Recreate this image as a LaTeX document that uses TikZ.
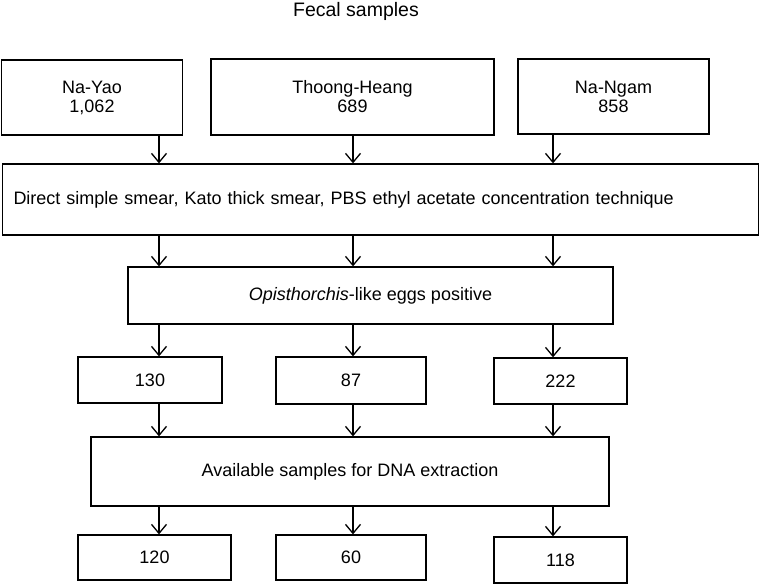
\documentclass[tikz,border=0pt]{standalone}
\usepackage{fontspec}
\setmainfont{Liberation Sans}
\usetikzlibrary{arrows.meta}
\begin{document}
\begin{tikzpicture}[x=1pt,y=-1pt,
  box/.style={draw=black, line width=1.3pt, rectangle, inner sep=0pt, align=center,
    font=\fontsize{18}{19}\selectfont},
  arr/.style={line width=1.3pt, -{Straight Barb[length=9pt,width=15pt,line width=1.3pt]}},
  ttl/.style={font=\fontsize{19.5}{21}\selectfont}]
\useasboundingbox (0,0) rectangle (760,584);
\node[ttl] (title) at (356,11) {Fecal samples};
% row 1
\node[box, minimum width=181pt, minimum height=75pt] (nayao) at (92,97.5) {Na-Yao\\1,062};
\node[box, minimum width=283pt, minimum height=76pt] (thoong) at (352.5,97) {Thoong-Heang\\689};
\node[box, minimum width=191pt, minimum height=75pt] (nangam) at (613.5,96.5) {Na-Ngam\\858};
% row 2
\node[box, minimum height=71pt, text width=734pt, inner xsep=11pt, align=left] (proc) at (380.5,199.5)
  {Direct simple smear, Kato thick smear, PBS ethyl acetate concentration technique};
% row 3
\node[box, minimum width=485pt, minimum height=57pt] (opis) at (370.5,295.5) {\textit{Opisthorchis}-like eggs positive};
% row 4
\node[box, minimum width=144pt, minimum height=46pt] (r130) at (150,380) {130};
\node[box, minimum width=150pt, minimum height=47pt] (r87) at (351,380.5) {87};
\node[box, minimum width=133pt, minimum height=46pt] (r222) at (560.5,381) {222};
% row 5
\node[box, minimum width=518pt, minimum height=69pt] (avail) at (350,471.5) {Available samples for DNA extraction};
% row 6
\node[box, minimum width=153pt, minimum height=45pt] (r120) at (154.5,557.5) {120};
\node[box, minimum width=150pt, minimum height=45pt] (r60) at (351,557.5) {60};
\node[box, minimum width=133pt, minimum height=46pt] (r118) at (560.5,560) {118};
% arrow columns
\coordinate (ca) at (159,0);
\coordinate (cb) at (353,0);
\coordinate (cc) at (553,0);
% arrows
\draw[arr] (ca |- nayao.south) -- (ca |- proc.north);
\draw[arr] (cb |- thoong.south) -- (cb |- proc.north);
\draw[arr] (cc |- nangam.south) -- (cc |- proc.north);
\draw[arr] (ca |- proc.south) -- (ca |- opis.north);
\draw[arr] (cb |- proc.south) -- (cb |- opis.north);
\draw[arr] (cc |- proc.south) -- (cc |- opis.north);
\draw[arr] (ca |- opis.south) -- (ca |- r130.north);
\draw[arr] (cb |- opis.south) -- (cb |- r87.north);
\draw[arr] (cc |- opis.south) -- (cc |- r222.north);
\draw[arr] (ca |- r130.south) -- (ca |- avail.north);
\draw[arr] (cb |- r87.south) -- (cb |- avail.north);
\draw[arr] (cc |- r222.south) -- (cc |- avail.north);
\draw[arr] (ca |- avail.south) -- (ca |- r120.north);
\draw[arr] (cb |- avail.south) -- (cb |- r60.north);
\draw[arr] (cc |- avail.south) -- (cc |- r118.north);
\end{tikzpicture}
\end{document}
